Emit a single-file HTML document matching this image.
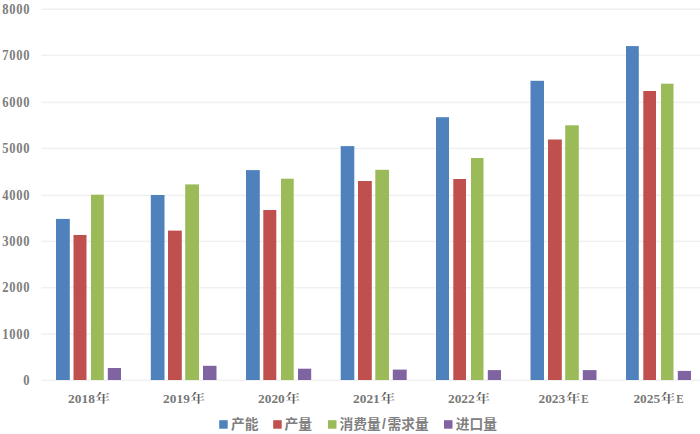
<!DOCTYPE html>
<html><head><meta charset="utf-8"><style>
html,body{margin:0;padding:0;background:#fff;width:700px;height:434px;overflow:hidden}
svg{display:block}
.yl{font-family:"Liberation Serif","Noto Serif CJK SC",serif;font-size:14px;letter-spacing:0.8px;fill:#7d7d7d;text-anchor:end;dominant-baseline:central;font-weight:bold;stroke:#7d7d7d;stroke-width:0px}
.xl{font-family:"Liberation Serif","Noto Serif CJK SC",serif;font-size:13.6px;letter-spacing:0px;fill:#797979;font-weight:bold}
.nian{font-family:"Liberation Serif","Noto Serif CJK SC",serif;font-weight:600;font-size:13.6px;fill:#606060}
.lg{font-family:"Liberation Sans","Noto Sans CJK SC",sans-serif;font-size:13.75px;letter-spacing:0px;fill:#808080;font-weight:bold}
</style></head><body>
<svg width="700" height="434" viewBox="0 0 700 434">
<rect width="700" height="434" fill="#fff"/>
<rect x="41.3" y="379.55" width="658.7" height="1.5" fill="#F0F0F0"/><rect x="41.3" y="333.35" width="658.7" height="1.5" fill="#F0F0F0"/><rect x="41.3" y="286.95" width="658.7" height="1.5" fill="#F0F0F0"/><rect x="41.3" y="240.65" width="658.7" height="1.5" fill="#F0F0F0"/><rect x="41.3" y="194.65" width="658.7" height="1.5" fill="#F0F0F0"/><rect x="41.3" y="147.65" width="658.7" height="1.5" fill="#F0F0F0"/><rect x="41.3" y="101.65" width="658.7" height="1.5" fill="#F0F0F0"/><rect x="41.3" y="54.65" width="658.7" height="1.5" fill="#F0F0F0"/><rect x="41.3" y="8.45" width="658.7" height="1.5" fill="#F0F0F0"/><rect x="56.0" y="218.9" width="13.8" height="161.1" fill="#4F81BD"/><rect x="73.5" y="235.0" width="13.0" height="145.0" fill="#C0504D"/><rect x="91.0" y="194.7" width="12.8" height="185.3" fill="#9BBB59"/><rect x="107.8" y="368.0" width="13.2" height="12.0" fill="#8064A2"/><rect x="150.8" y="195.0" width="13.7" height="185.0" fill="#4F81BD"/><rect x="168.0" y="230.6" width="13.8" height="149.4" fill="#C0504D"/><rect x="185.2" y="184.4" width="13.8" height="195.6" fill="#9BBB59"/><rect x="203.0" y="365.8" width="13.5" height="14.2" fill="#8064A2"/><rect x="246.0" y="170.1" width="13.8" height="209.9" fill="#4F81BD"/><rect x="263.3" y="210.0" width="13.0" height="170.0" fill="#C0504D"/><rect x="281.0" y="178.7" width="12.7" height="201.3" fill="#9BBB59"/><rect x="298.0" y="368.7" width="13.2" height="11.3" fill="#8064A2"/><rect x="340.7" y="146.1" width="13.6" height="233.9" fill="#4F81BD"/><rect x="358.0" y="181.0" width="13.8" height="199.0" fill="#C0504D"/><rect x="375.3" y="169.8" width="13.7" height="210.2" fill="#9BBB59"/><rect x="392.8" y="369.6" width="13.9" height="10.4" fill="#8064A2"/><rect x="436.0" y="117.2" width="13.0" height="262.8" fill="#4F81BD"/><rect x="453.3" y="179.0" width="12.7" height="201.0" fill="#C0504D"/><rect x="471.0" y="158.0" width="12.5" height="222.0" fill="#9BBB59"/><rect x="487.8" y="370.1" width="13.2" height="9.9" fill="#8064A2"/><rect x="530.5" y="80.8" width="13.5" height="299.2" fill="#4F81BD"/><rect x="548.0" y="139.5" width="13.8" height="240.5" fill="#C0504D"/><rect x="565.2" y="125.3" width="13.6" height="254.7" fill="#9BBB59"/><rect x="582.8" y="370.1" width="13.7" height="9.9" fill="#8064A2"/><rect x="626.0" y="46.1" width="12.8" height="333.9" fill="#4F81BD"/><rect x="643.3" y="91.0" width="12.7" height="289.0" fill="#C0504D"/><rect x="661.0" y="83.7" width="12.5" height="296.3" fill="#9BBB59"/><rect x="677.8" y="370.9" width="13.2" height="9.1" fill="#8064A2"/>
<text transform="translate(30.20,380.00) scale(0.9,1.0)" class="yl">0</text><text transform="translate(30.20,333.80) scale(0.9,1.0)" class="yl">1000</text><text transform="translate(30.20,287.40) scale(0.9,1.0)" class="yl">2000</text><text transform="translate(30.20,241.10) scale(0.9,1.0)" class="yl">3000</text><text transform="translate(30.20,195.10) scale(0.9,1.0)" class="yl">4000</text><text transform="translate(30.20,148.10) scale(0.9,1.0)" class="yl">5000</text><text transform="translate(30.20,102.10) scale(0.9,1.0)" class="yl">6000</text><text transform="translate(30.20,55.10) scale(0.9,1.0)" class="yl">7000</text><text transform="translate(30.20,8.90) scale(0.9,1.0)" class="yl">8000</text>
<text transform="translate(68.10,402.8) scale(0.985,0.97)" class="xl">2018</text><text transform="translate(95.30,403.1) scale(1.1,0.88)" class="nian">年</text><text transform="translate(163.07,402.8) scale(0.985,0.97)" class="xl">2019</text><text transform="translate(190.27,403.1) scale(1.1,0.88)" class="nian">年</text><text transform="translate(258.04,402.8) scale(0.985,0.97)" class="xl">2020</text><text transform="translate(285.24,403.1) scale(1.1,0.88)" class="nian">年</text><text transform="translate(353.01,402.8) scale(0.985,0.97)" class="xl">2021</text><text transform="translate(380.21,403.1) scale(1.1,0.88)" class="nian">年</text><text transform="translate(447.98,402.8) scale(0.985,0.97)" class="xl">2022</text><text transform="translate(475.18,403.1) scale(1.1,0.88)" class="nian">年</text><text transform="translate(538.45,402.8) scale(0.985,0.97)" class="xl">2023</text><text transform="translate(565.65,403.1) scale(1.1,0.88)" class="nian">年</text><text transform="translate(581.25,402.8) scale(0.82,0.97)" class="xl">E</text><text transform="translate(633.42,402.8) scale(0.985,0.97)" class="xl">2025</text><text transform="translate(660.62,403.1) scale(1.1,0.88)" class="nian">年</text><text transform="translate(676.22,402.8) scale(0.82,0.97)" class="xl">E</text>

<rect x="219.2" y="420.2" width="8.5" height="8.5" fill="#4F81BD"/>
<text x="231" y="428.8" class="lg">产能</text>
<rect x="273.2" y="420.2" width="8.5" height="8.5" fill="#C0504D"/>
<text x="284.5" y="428.8" class="lg">产量</text>
<rect x="328.0" y="420.2" width="8.5" height="8.5" fill="#9BBB59"/>
<text x="339.5" y="428.8" class="lg">消费量<tspan dx="1.2">/</tspan><tspan dx="1.8">需求量</tspan></text>
<rect x="444.0" y="420.2" width="8.5" height="8.5" fill="#8064A2"/>
<text x="455.7" y="428.8" class="lg">进口量</text>

</svg>
</body></html>
